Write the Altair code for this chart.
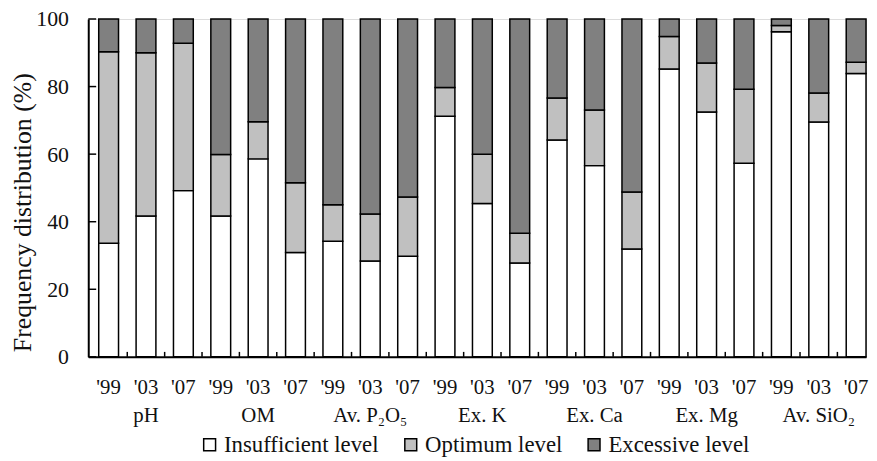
import altair as alt
import pandas as pd

# ---- data ----
groups = ["pH", "OM", "Av. P₂O₅", "Ex. K", "Ex. Ca", "Ex. Mg", "Av. SiO₂"]
years = ["'99", "'03", "'07"]
levels = ["Insufficient level", "Optimum level", "Excessive level"]

insufficient = [33.6, 41.7, 49.2, 41.7, 58.6, 30.9, 34.2, 28.4, 29.8, 71.2, 45.4,
                27.8, 64.2, 56.6, 31.9, 85.2, 72.5, 57.3, 96.2, 69.5, 83.9]
optimum = [56.7, 48.3, 43.6, 18.2, 11.0, 20.6, 10.8, 13.9, 17.5, 8.5, 14.6,
           8.8, 12.4, 16.5, 16.9, 9.6, 14.5, 21.9, 1.9, 8.6, 3.3]
excessive = [9.7, 10.0, 7.2, 40.1, 30.4, 48.5, 55.0, 57.7, 52.7, 20.3, 40.0,
             63.4, 23.4, 26.9, 51.2, 5.2, 13.0, 20.8, 1.9, 21.9, 12.8]
y_ticks = [0, 20, 40, 60, 80, 100]

# ---- build tables ----
keys = [f"{g}|{y}" for g in groups for y in years]
rows = []
for i, k in enumerate(keys):
    for j, (lvl, vals) in enumerate(zip(levels, [insufficient, optimum, excessive])):
        rows.append({"key": k, "level": lvl, "value": vals[i], "ord": j})
df = pd.DataFrame(rows)

grp_df = pd.DataFrame({"key": [f"{g}|{years[1]}" for g in groups], "label": groups})
tick_df = pd.DataFrame({"key": keys[1:]})
ytick_df = pd.DataFrame({"value": y_ticks})

FONT = "Liberation Serif"
W, H = 785, 341
YTITLE = "Frequency distribution (%)"

xscale = alt.Scale(domain=keys, paddingInner=0.47, paddingOuter=0.14, align=1)
yscale = alt.Scale(domain=[0, 100], nice=False)

xaxis = alt.Axis(labelExpr="split(datum.value, '|')[1]", labelAngle=0,
                 ticks=False, labelPadding=20, labelFontSize=21,
                 labelFont=FONT, labelColor="#111", domainColor="black",
                 domainWidth=2, grid=False)
yaxis = alt.Axis(values=y_ticks, ticks=False, grid=False, labelPadding=20,
                 labelFontSize=22, labelFont=FONT, labelColor="#111",
                 titleFont=FONT, titleFontSize=26, titleFontWeight="normal",
                 titleColor="#111", titlePadding=0, titleY=195,
                 domainColor="black", domainWidth=2)


def X(**kw):
    return alt.X("key:N", sort=keys, scale=xscale, title=None, axis=xaxis, **kw)


def Y(**kw):
    return alt.Y("value:Q", scale=yscale, title=YTITLE, axis=yaxis, **kw)


bars = alt.Chart(df).mark_bar(stroke="black", strokeWidth=1.5).encode(
    x=X(),
    y=Y(stack="zero"),
    color=alt.Color("level:N", scale=alt.Scale(domain=levels,
                                               range=["#ffffff", "#c0c0c0", "#808080"]),
                    legend=alt.Legend(title=None, orient="none", direction="horizontal",
                                      legendX=111, legendY=418, symbolType="square",
                                      symbolSize=144, symbolStrokeColor="black",
                                      symbolStrokeWidth=1.5, labelFont=FONT,
                                      labelFontSize=23, labelColor="#111",
                                      labelOffset=3, columnPadding=20, padding=0)),
    order=alt.Order("ord:Q", sort="ascending"),
)

xticks = alt.Chart(tick_df).mark_rule(color="black", strokeWidth=1.5).encode(
    x=X(bandPosition=0),
    xOffset=alt.value(-8.9),
    y=alt.value(H),
    y2=alt.value(H - 5),
)

yticks = alt.Chart(ytick_df).mark_rule(color="black", strokeWidth=1.5).encode(
    y=Y(),
    x=alt.value(0),
    x2=alt.value(8),
)

glabels = alt.Chart(grp_df).mark_text(font=FONT, fontSize=21, color="#111",
                                      baseline="alphabetic", align="center").encode(
    x=X(),
    y=alt.value(H + 66),
    text="label:N",
)

chart = alt.layer(bars, xticks, yticks, glabels).properties(
    width=W, height=H,
    autosize=alt.AutoSizeParams(type="none"),
    padding={"left": 81, "top": 9, "right": 3, "bottom": 102},
).configure_view(stroke=None).configure(background="white")

chart.save("out.html", embed_options={"renderer": "svg", "actions": False})
